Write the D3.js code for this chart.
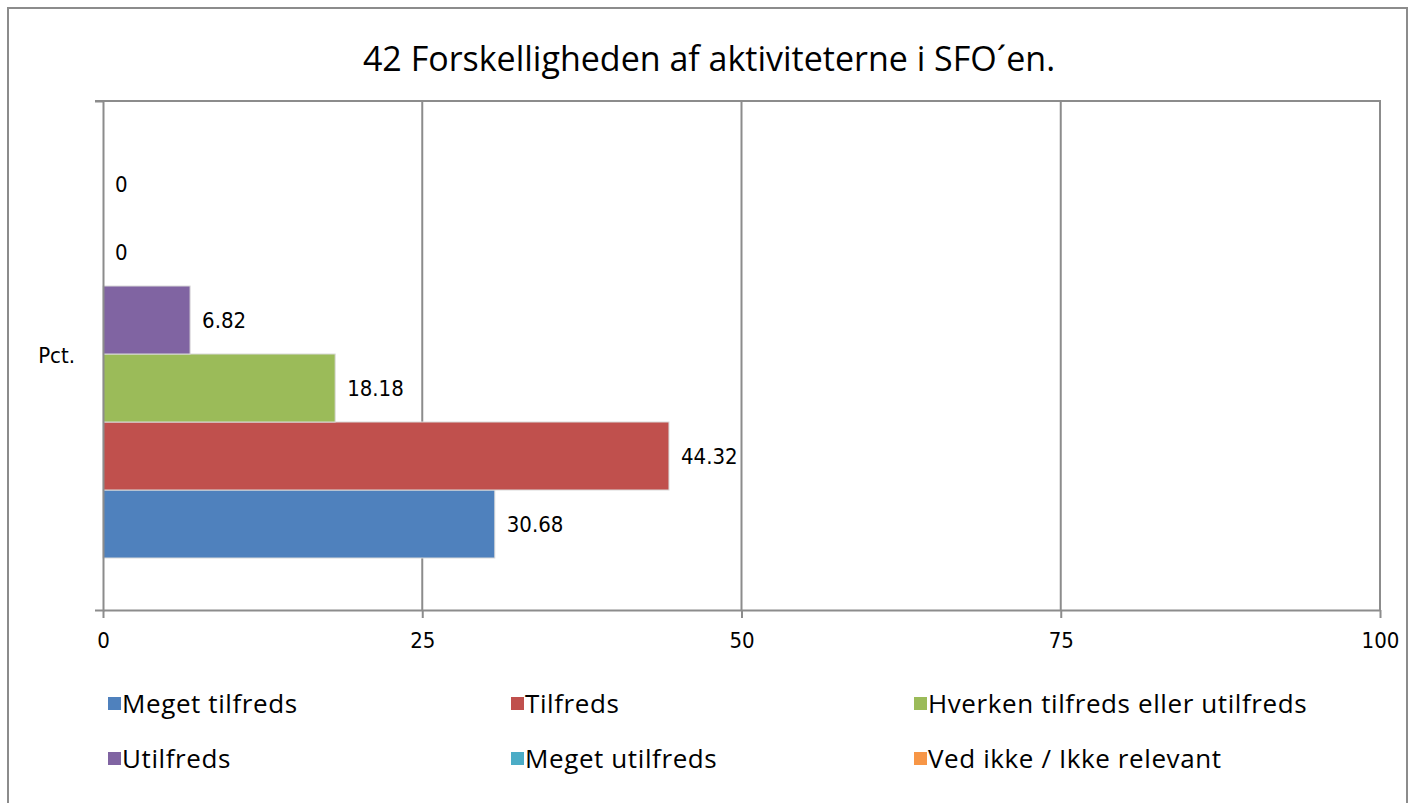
<!DOCTYPE html>
<html>
<head>
<meta charset="utf-8">
<script src="https://cdn.jsdelivr.net/npm/d3@7"></script>
<style>
  body { margin: 0; background: #fff; }
  svg { display: block; }
</style>
</head>
<body>
<div id="chart"></div>
<script>
var title = "42 Forskelligheden af aktiviteterne i SFO\u00b4en.";
var category = "Pct.";
var series = ["Meget tilfreds", "Tilfreds", "Hverken tilfreds eller utilfreds",
              "Utilfreds", "Meget utilfreds", "Ved ikke / Ikke relevant"];
var values = [30.68, 44.32, 18.18, 6.82, 0, 0];
var colours = ["#4f81bd", "#c0504d", "#9bbb59", "#8064a2", "#4bacc6", "#f79646"];
var xTicks = [0, 25, 50, 75, 100];

var width = 1415, height = 803;
var plotLeft = 103, plotRight = 1380, plotTop = 101, plotBottom = 610;
var grey = "#8c8c8c";
var tickFont = "'DejaVu Sans Condensed', 'DejaVu Sans', sans-serif";

var svg = d3.select("#chart").append("svg")
    .attr("width", width)
    .attr("height", height);

// outer frame (bottom runs off the picture)
svg.append("path")
    .attr("d", "M8,812 V8 H1407 V812")
    .attr("fill", "none")
    .attr("stroke", grey)
    .attr("stroke-width", 2);

svg.append("text")
    .attr("x", 709)
    .attr("y", 71)
    .attr("text-anchor", "middle")
    .style("font-family", "'Open Sans', sans-serif")
    .style("font-size", "34px")
    .style("fill", "#000")
    .text(title);

var x = d3.scaleLinear().domain([0, 100]).range([plotLeft, plotRight]);

var yCat = d3.scaleBand().domain([category]).range([plotBottom, plotTop]);

// bars stack upward from the first series inside the one category band
var y = d3.scaleBand()
    .domain(d3.range(series.length))
    .range([plotBottom - 52, plotTop + 49])
    .padding(0);

// vertical gridlines
svg.append("g")
    .selectAll("line")
    .data(xTicks.slice(1))
    .enter()
    .append("line")
    .attr("x1", function (d) { return x(d); })
    .attr("x2", function (d) { return x(d); })
    .attr("y1", plotTop)
    .attr("y2", plotBottom)
    .attr("stroke", grey)
    .attr("stroke-width", 2);

// top line
svg.append("line")
    .attr("x1", plotLeft - 8).attr("x2", plotRight + 1)
    .attr("y1", plotTop).attr("y2", plotTop)
    .attr("stroke", grey).attr("stroke-width", 2);

svg.append("g")
    .selectAll("rect")
    .data(values)
    .enter()
    .append("rect")
    .attr("x", x(0))
    .attr("y", function (d, i) { return y(i); })
    .attr("width", function (d) { return x(d) - x(0); })
    .attr("height", y.bandwidth())
    .attr("fill", function (d, i) { return colours[i]; })
    .attr("stroke", function (d) { return d > 0 ? "#d9d9d9" : "none"; })
    .attr("stroke-width", 1);

svg.append("g")
    .selectAll("text")
    .data(values)
    .enter()
    .append("text")
    .attr("x", function (d) { return x(d) + 12; })
    .attr("y", function (d, i) { return y(i) + y.bandwidth() / 2 + 8; })
    .style("font-family", tickFont)
    .style("font-size", "22px")
    .style("fill", "#000")
    .text(function (d) { return d; });

// x axis
var xAxis = svg.append("g")
    .attr("transform", "translate(0," + plotBottom + ")")
    .call(d3.axisBottom(x).tickValues(xTicks).tickSize(8).tickSizeOuter(0));
xAxis.select(".domain").attr("stroke", grey).attr("stroke-width", 2);
xAxis.selectAll(".tick line").attr("stroke", grey).attr("stroke-width", 2);
xAxis.selectAll(".tick text")
    .attr("y", 22)
    .attr("dy", "0.71em")
    .style("font-family", tickFont)
    .style("font-size", "22px")
    .style("fill", "#000");

// y axis (single category)
var yAxis = svg.append("g")
    .attr("transform", "translate(" + plotLeft + ",0)")
    .call(d3.axisLeft(yCat).tickSize(0).tickSizeOuter(8).tickPadding(28));
yAxis.select(".domain").attr("stroke", grey).attr("stroke-width", 2);
yAxis.selectAll(".tick text")
    .style("font-family", tickFont)
    .style("font-size", "22px")
    .style("fill", "#000");

// legend
var legend = svg.append("g")
    .selectAll("g")
    .data(series)
    .enter()
    .append("g")
    .attr("transform", function (d, i) {
        return "translate(" + (108 + (i % 3) * 403) + "," + (703 + Math.floor(i / 3) * 55) + ")";
    });

legend.append("rect")
    .attr("x", 0)
    .attr("y", -6)
    .attr("width", 13)
    .attr("height", 13)
    .attr("fill", function (d, i) { return colours[i]; });

legend.append("text")
    .attr("x", 14)
    .attr("y", 10)
    .style("font-family", "'Open Sans', sans-serif")
    .style("font-size", "26px")
    .style("letter-spacing", "0.6px")
    .style("fill", "#000")
    .text(function (d) { return d; });
</script>
</body>
</html>
